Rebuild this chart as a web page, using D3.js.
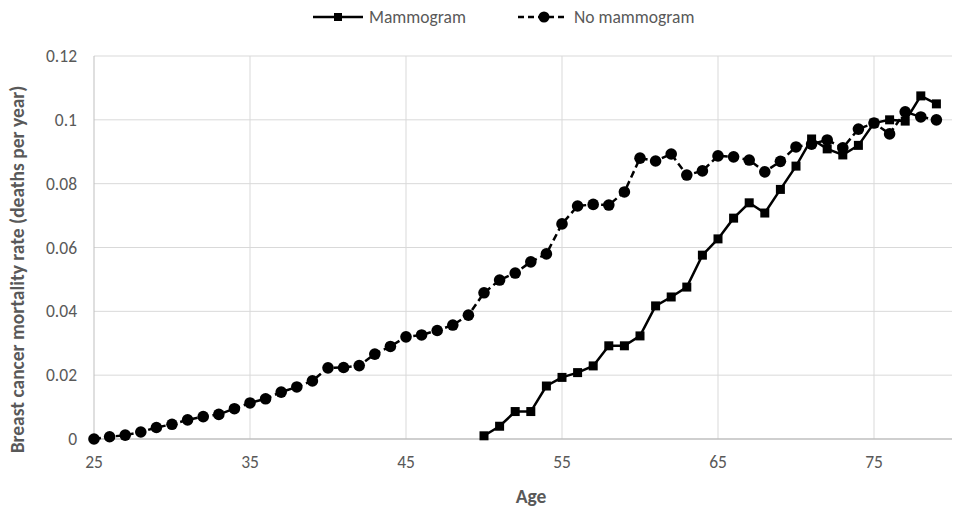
<!DOCTYPE html>
<html><head><meta charset="utf-8">
<script src="https://cdn.jsdelivr.net/npm/d3@7"></script>
<style>
body{margin:0;background:#fff;}
text{font-family:Carlito,Calibri,"Open Sans",sans-serif;}
</style></head>
<body><svg id="c" width="956" height="508"></svg>
<script>
const mammoAges = d3.range(50, 80);
const mammoValues = [0.001,0.004,0.0086,0.0086,0.0166,0.0193,0.0208,0.0229,0.0292,0.0292,
  0.0323,0.0417,0.0445,0.0476,0.0576,0.0627,0.0692,0.074,0.0708,0.0782,
  0.0855,0.094,0.0909,0.089,0.092,0.099,0.1,0.0996,0.1075,0.105];
const noMammoAges = d3.range(25, 80);
const noMammoValues = [0,0.0007,0.0012,0.0022,0.0036,0.0046,0.006,0.007,0.0077,0.0095,
  0.0113,0.0126,0.0147,0.0163,0.0182,0.0223,0.0224,0.023,0.0266,0.029,
  0.032,0.0326,0.034,0.0357,0.0388,0.0458,0.0498,0.052,0.0555,0.058,
  0.0674,0.073,0.0735,0.0733,0.0774,0.088,0.0871,0.0893,0.0827,0.084,
  0.0887,0.0884,0.0874,0.0837,0.087,0.0915,0.0924,0.0937,0.0912,0.0971,
  0.099,0.0956,0.1025,0.1009,0.1];
const xTicks = [25,35,45,55,65,75];
const yTicks = [0,0.02,0.04,0.06,0.08,0.1,0.12];
const yTickLabels = ["0","0.02","0.04","0.06","0.08","0.1","0.12"];
const seriesNames = ["Mammogram","No mammogram"];

const svg = d3.select("#c");
const x = d3.scaleLinear().domain([25,80]).range([94,952]);
const y = d3.scaleLinear().domain([0,0.12]).range([439,56]);
const grey = "#595959";

// gridlines
svg.append("g").selectAll("line").data(yTicks.slice(1)).join("line")
  .attr("x1",x(25)).attr("x2",x(80)).attr("y1",d=>y(d)).attr("y2",d=>y(d))
  .attr("stroke","#d9d9d9").attr("stroke-width",1);
svg.append("g").selectAll("line").data(xTicks.slice(1)).join("line")
  .attr("x1",d=>x(d)).attr("x2",d=>x(d)).attr("y1",y(0)).attr("y2",y(0.12))
  .attr("stroke","#d9d9d9").attr("stroke-width",1);
// axes lines
svg.append("line").attr("x1",x(25)).attr("x2",x(80)).attr("y1",y(0)).attr("y2",y(0))
  .attr("stroke","#bfbfbf").attr("stroke-width",1.5);
svg.append("line").attr("x1",x(25)).attr("x2",x(25)).attr("y1",y(0)).attr("y2",y(0.12))
  .attr("stroke","#bfbfbf").attr("stroke-width",1);

// tick labels
svg.append("g").selectAll("text").data(yTicks).join("text")
  .attr("x",77).attr("y",d=>y(d)).attr("dy","0.35em").attr("text-anchor","end")
  .attr("font-size",17.5).attr("fill",grey).text((d,i)=>yTickLabels[i]);
svg.append("g").selectAll("text").data(xTicks).join("text")
  .attr("x",d=>x(d)).attr("y",468).attr("text-anchor","middle")
  .attr("font-size",17.5).attr("fill",grey).text(d=>d);

// axis titles
svg.append("text").attr("transform",`translate(24,${(y(0)+y(0.12))/2 + 22}) rotate(-90)`)
  .attr("text-anchor","middle").attr("font-size",19.5).attr("font-weight","bold")
  .attr("fill",grey).text("Breast cancer mortality rate (deaths per year)");
svg.append("text").attr("x",(x(25)+x(80))/2 + 8).attr("y",503).attr("text-anchor","middle")
  .attr("font-size",19.5).attr("font-weight","bold").attr("fill",grey).text("Age");

const line = d3.line().x(d=>x(d[0])).y(d=>y(d[1]));
const noData = noMammoAges.map((a,i)=>[a,noMammoValues[i]]);
const mData = mammoAges.map((a,i)=>[a,mammoValues[i]]);

svg.append("path").datum(noData).attr("d",line).attr("fill","none")
  .attr("stroke","#000").attr("stroke-width",2.5).attr("stroke-dasharray","7,4");
svg.append("g").selectAll("circle").data(noData).join("circle")
  .attr("cx",d=>x(d[0])).attr("cy",d=>y(d[1])).attr("r",5.8).attr("fill","#000");

svg.append("path").datum(mData).attr("d",line).attr("fill","none")
  .attr("stroke","#000").attr("stroke-width",2.5);
svg.append("g").selectAll("rect").data(mData).join("rect")
  .attr("x",d=>x(d[0])-4.5).attr("y",d=>y(d[1])-4.5).attr("width",9).attr("height",9).attr("fill","#000");

// legend
const lg = svg.append("g");
lg.append("line").attr("x1",313).attr("x2",363).attr("y1",17).attr("y2",17).attr("stroke","#000").attr("stroke-width",2.5);
lg.append("rect").attr("x",334).attr("y",13).attr("width",8).attr("height",8).attr("fill","#000");
lg.append("text").attr("x",369).attr("y",17).attr("dy","0.35em").attr("font-size",17.5).attr("fill",grey).text(seriesNames[0]);
lg.append("line").attr("x1",518).attr("x2",568).attr("y1",17).attr("y2",17).attr("stroke","#000").attr("stroke-width",2.5).attr("stroke-dasharray","6,4");
lg.append("circle").attr("cx",544).attr("cy",17).attr("r",5.5).attr("fill","#000");
lg.append("text").attr("x",574).attr("y",17).attr("dy","0.35em").attr("font-size",17.5).attr("fill",grey).text(seriesNames[1]);
</script></body></html>
